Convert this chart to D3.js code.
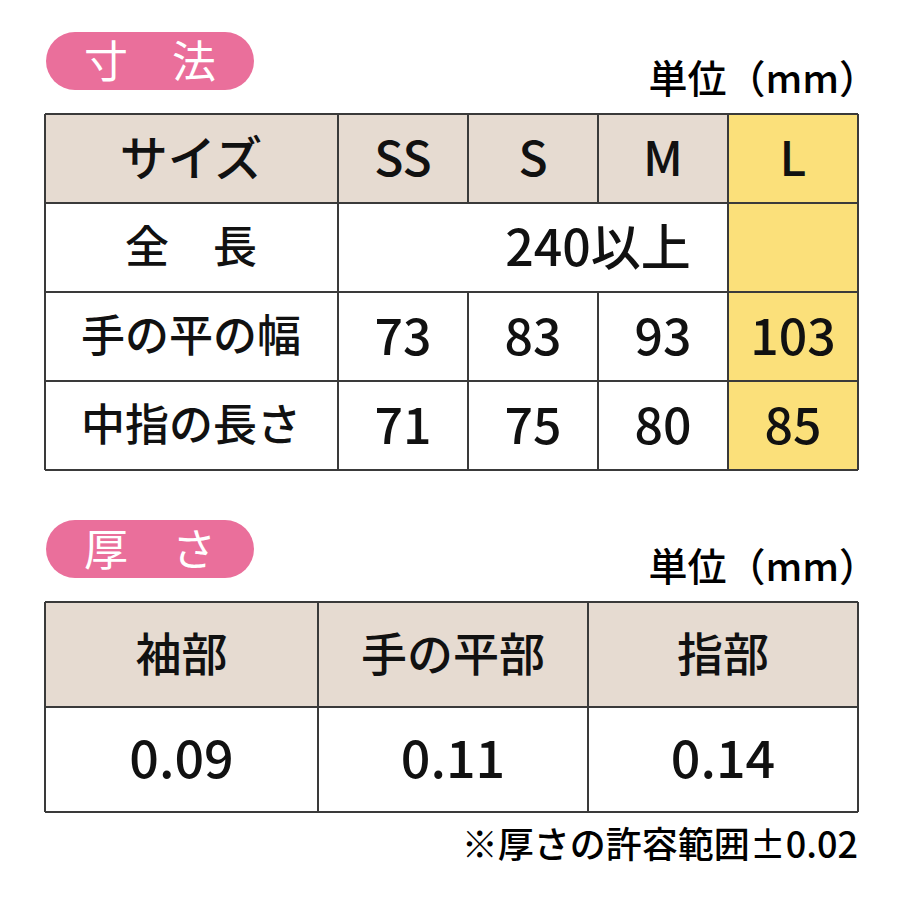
<!DOCTYPE html>
<html><head><meta charset="utf-8">
<script src="https://cdn.jsdelivr.net/npm/d3@7"></script>
<style>body{margin:0;background:#fff}</style>
</head><body>
<script>
// data
const sizes = ["SS", "S", "M", "L"];
const sizeRows = [
  {label: "全　長", values: ["240以上"]},
  {label: "手の平の幅", values: ["73", "83", "93", "103"]},
  {label: "中指の長さ", values: ["71", "75", "80", "85"]}
];
const thickParts = ["袖部", "手の平部", "指部"];
const thickValues = ["0.09", "0.11", "0.14"];
const unitText = "単位（mm）";
const noteText = "※厚さの許容範囲±0.02";

const W = 900, H = 900;
const font = "'Noto Sans CJK JP', 'Noto Sans', sans-serif";
const pink = "#ea6f9b", beige = "#e6dbd1", yellow = "#fbe07a", line = "#3a3a3a";

const svg = d3.select("body").append("svg").attr("width", W).attr("height", H);

function pill(x, y, text) {
  svg.append("rect").attr("x", x).attr("y", y).attr("width", 208).attr("height", 58)
    .attr("rx", 29).attr("fill", pink);
  svg.append("text").attr("x", x + 104).attr("y", y + 30).attr("dy", "0.36em")
    .attr("text-anchor", "middle").attr("fill", "#fff").attr("font-family", font)
    .attr("font-size", 44).attr("font-weight", 400).text(text);
}
function unit(y) {
  // full-width closing paren has trailing space; push end past the table edge
  svg.append("text").attr("x", 878).attr("y", y).attr("text-anchor", "end")
    .attr("font-family", font).attr("font-size", 39).attr("font-weight", 500).text(unitText);
}
function cellText(x, y, t, size) {
  svg.append("text").attr("x", x).attr("y", y).attr("dy", "0.36em")
    .attr("text-anchor", "middle").attr("font-family", font).attr("font-size", size)
    .attr("font-weight", 500).attr("fill", "#111").text(t);
}

// ---- table 1
pill(46, 32, "寸　法");
unit(93);
const x1 = d3.scaleOrdinal().domain(["label", ...sizes]).range([45, 338, 468, 598, 728]);
const y1 = d3.scaleBand().domain(d3.range(4)).range([114, 470]);

svg.append("rect").attr("x", 45).attr("y", y1(0)).attr("width", 813).attr("height", y1.bandwidth()).attr("fill", beige);
svg.append("rect").attr("x", x1("L")).attr("y", 114).attr("width", 130).attr("height", 356).attr("fill", yellow);

cellText(x1("label") + 146, y1(0) + y1.bandwidth() / 2, "サイズ", 48);
sizes.forEach(s => cellText(x1(s) + 65, y1(0) + y1.bandwidth() / 2, s, 48));
sizeRows.forEach((r, i) => {
  const cy = y1(i + 1) + y1.bandwidth() / 2;
  cellText(x1("label") + 146, cy, r.label, 44);
  if (r.values.length > 1) r.values.forEach((v, j) => cellText(x1(sizes[j]) + 65, cy, v, 50));
});
// grid
d3.range(5).forEach(i => svg.append("line").attr("x1", 45).attr("x2", 858)
  .attr("y1", i === 4 ? 470 : y1(i)).attr("y2", i === 4 ? 470 : y1(i)).attr("stroke", line).attr("stroke-width", 2));
["label", ...sizes].forEach(k => svg.append("line").attr("x1", x1(k)).attr("x2", x1(k))
  .attr("y1", 114).attr("y2", 470).attr("stroke", line).attr("stroke-width", 2));
svg.append("line").attr("x1", 858).attr("x2", 858).attr("y1", 114).attr("y2", 470).attr("stroke", line).attr("stroke-width", 2);
// merged cell in row 2
svg.append("rect").attr("x", 340).attr("y", y1(1) + 1).attr("width", 386).attr("height", y1.bandwidth() - 2).attr("fill", "#fff");
cellText(598, y1(1) + y1.bandwidth() / 2, sizeRows[0].values[0], 50);

// ---- table 2
pill(46, 520, "厚　さ");
unit(581);
const x2 = d3.scaleOrdinal().domain(thickParts).range([45, 318, 588]);
const w2 = [273, 270, 270];
const y2 = d3.scaleBand().domain([0, 1]).range([602, 812]);
svg.append("rect").attr("x", 45).attr("y", 602).attr("width", 813).attr("height", y2.bandwidth()).attr("fill", beige);
thickParts.forEach((p, i) => {
  cellText(x2(p) + w2[i] / 2, y2(0) + y2.bandwidth() / 2, p, 46);
  cellText(x2(p) + w2[i] / 2, y2(1) + y2.bandwidth() / 2, thickValues[i], 52);
  svg.append("line").attr("x1", x2(p)).attr("x2", x2(p)).attr("y1", 602).attr("y2", 812).attr("stroke", line).attr("stroke-width", 2);
});
svg.append("line").attr("x1", 858).attr("x2", 858).attr("y1", 602).attr("y2", 812).attr("stroke", line).attr("stroke-width", 2);
[602, y2(1), 812].forEach(y => svg.append("line").attr("x1", 45).attr("x2", 858).attr("y1", y).attr("y2", y).attr("stroke", line).attr("stroke-width", 2));

svg.append("text").attr("x", 858).attr("y", 858).attr("text-anchor", "end")
  .attr("font-family", font).attr("font-size", 36).attr("font-weight", 500).text(noteText);
</script>
</body></html>
